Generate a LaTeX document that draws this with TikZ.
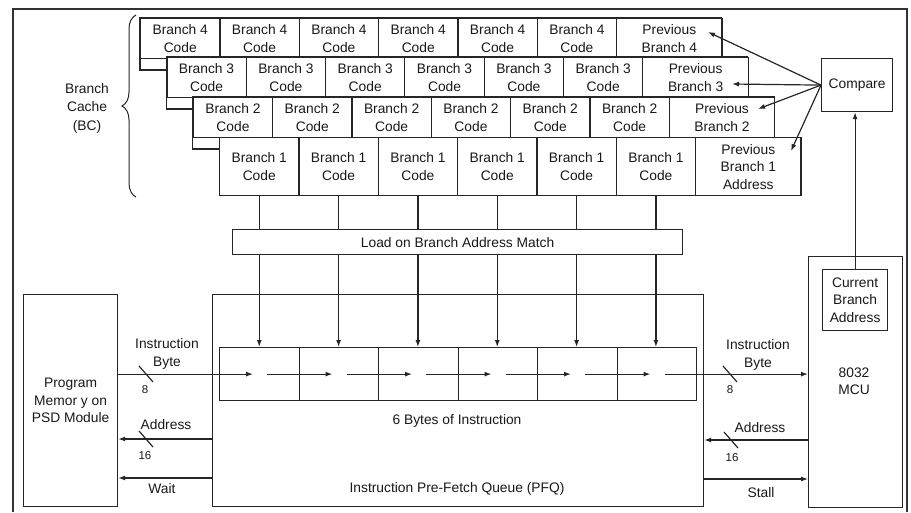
\documentclass[tikz,border=0pt]{standalone}
\usepackage{fontspec}
\setmainfont{Liberation Sans}
\usetikzlibrary{arrows.meta,decorations.pathreplacing,calc}
\begin{document}
\begin{tikzpicture}[x=1pt,y=-1pt,
  ln/.style={line width=1.2pt, draw=black!85},
  box/.style={ln, fill=white, rectangle, inner sep=0pt, align=center, anchor=north west,
    font=\fontsize{13.8}{17.5}\selectfont, text=black!90},
  txt/.style={font=\fontsize{13.8}{17.5}\selectfont, text=black!90, align=center, inner sep=0pt},
  num/.style={font=\fontsize{11.5}{13}\selectfont, text=black!90, inner sep=0pt},
  arr/.style={ln, -{Latex[length=7pt,width=5pt]}},
]
\useasboundingbox (0,0) rectangle (911,512);
% outer frame
\draw[line width=2pt, draw=black!80] (13,512) -- (13,9) -- (907,9) -- (907,512);

% branch cache rows
\foreach \r/\x/\y/\lab in {4/140/18/{Previous\\Branch 4}, 3/166.3/57/{Previous\\Branch 3}, 2/192.7/97/{Previous\\Branch 2}} {
  \draw[ln, fill=white] (\x,\y) rectangle ++(581.5,52);
  \foreach \c in {1,...,6} {
    \node[box, minimum width=79.33pt, minimum height=39.5pt] (r\r c\c) at ({\x+(\c-1)*79.33},\y) {Branch \r\\Code};
  }
  \node[box, minimum width=105.5pt, minimum height=39.5pt] (r\r c7) at ({\x+6*79.33},\y) {\lab};
}
\foreach \c in {1,...,6} {
  \node[box, minimum width=79.33pt, minimum height=58pt] (r1c\c) at ({219+(\c-1)*79.33},137) {Branch 1\\Code};
}
\node[box, minimum width=105.5pt, minimum height=58pt] (r1c7) at ({219+6*79.33},137) {Previous\\Branch 1\\Address};

% brace and label
\coordinate (bcbot) at (136,197);
\coordinate (bctop) at (136,15);
\draw[line width=1pt, draw=black!85, decorate, decoration={brace, amplitude=14pt, aspect=0.5}] (bcbot) -- (bctop);
\node[txt, font=\fontsize{13.8}{18.5}\selectfont] (bclab) at (87,108) {Branch\\Cache\\(BC)};

% compare
\node[box, minimum width=71pt, minimum height=53pt] (cmp) at (821,58) {Compare};
\coordinate (p4) at (708,32);
\coordinate (p3) at (732,84);
\coordinate (p2) at (758,109);
\coordinate (p1) at (791,151);
\foreach \p in {p4,p3,p2,p1} \draw[arr] (cmp.west) -- (\p);

% load bar
\node[box, minimum width=450pt, minimum height=25pt] (load) at (232,229) {Load on Branch Address Match};

% PFQ
\node[box, minimum width=491pt, minimum height=212pt] (pfq) at (212,294) {};
\node[txt] (sixlab) at (457,421) {6 Bytes of Instruction};
\node[txt] (pfqlab) at (457,489) {Instruction Pre-Fetch Queue (PFQ)};
\foreach \c in {1,...,6} {
  \node[box, minimum width=79.5pt, minimum height=53pt] (q\c) at ({219+(\c-1)*79.5},347) {};
}

% program memory and MCU
\node[box, minimum width=94pt, minimum height=212pt] (pm) at (23,294) {Program\\Memor y on\\PSD Module};
\node[box, minimum width=94pt, minimum height=251pt] (mcu) at (808,256) {};
\node[txt] (mcutxt) at (854,381) {8032\\MCU};
\node[box, minimum width=65pt, minimum height=61pt] (cba) at (822,269) {Current\\Branch\\Address};
\draw[arr] (cba.north) -- (cba.north |- cmp.south);

% vertical load lines
\foreach \c in {1,...,6} {
  \draw[ln] (r1c\c.south) -- (r1c\c.south |- load.north);
  \draw[arr] (r1c\c.south |- load.south) -- (r1c\c.south |- q\c.north);
}

% instruction flow
\draw[arr] (pm.east |- q1.west) -- ($(q1.west)+(34,0)$);
\foreach \a/\b in {1/2,2/3,3/4,4/5,5/6} {
  \draw[arr] ($(q\a.west)+(48,0)$) -- ($(q\b.west)+(34,0)$);
}
\draw[arr] ($(q6.west)+(48,0)$) -- (mcu.west |- q6.west);

% left side buses
\coordinate (ya1) at (0,439);
\coordinate (yw) at (0,478);
\draw[arr] (pfq.west |- ya1) -- (pm.east |- ya1);
\draw[arr] (pfq.west |- yw) -- (pm.east |- yw);
\coordinate (s1) at (146,374);
\coordinate (s2) at (146,439);
\draw[ln] ($(s1)+(-7,-8)$) -- ($(s1)+(7,8)$);
\draw[ln] ($(s2)+(-7,-8)$) -- ($(s2)+(7,8)$);
\node[txt] (libl) at (167,354) {Instruction\\Byte};
\node[num] (l8) at (145,390) {8};
\node[txt] (ladr) at (166,425) {Address};
\node[num] (l16) at (145,456) {16};
\node[txt] (lwait) at (162,489) {Wait};

% right side buses
\coordinate (ya2) at (0,440);
\coordinate (ys) at (0,479);
\draw[arr] (mcu.west |- ya2) -- (pfq.east |- ya2);
\draw[arr] (pfq.east |- ys) -- (mcu.west |- ys);
\coordinate (s3) at (730,374);
\coordinate (s4) at (731,440);
\draw[ln] ($(s3)+(-7,-8)$) -- ($(s3)+(7,8)$);
\draw[ln] ($(s4)+(-7,-8)$) -- ($(s4)+(7,8)$);
\node[txt] (ribl) at (758,355) {Instruction\\Byte};
\node[num] (r8) at (730,390) {8};
\node[txt] (radr) at (760,428) {Address};
\node[num] (r16) at (732,458) {16};
\node[txt] (rstall) at (761,493) {Stall};
\end{tikzpicture}
\end{document}
